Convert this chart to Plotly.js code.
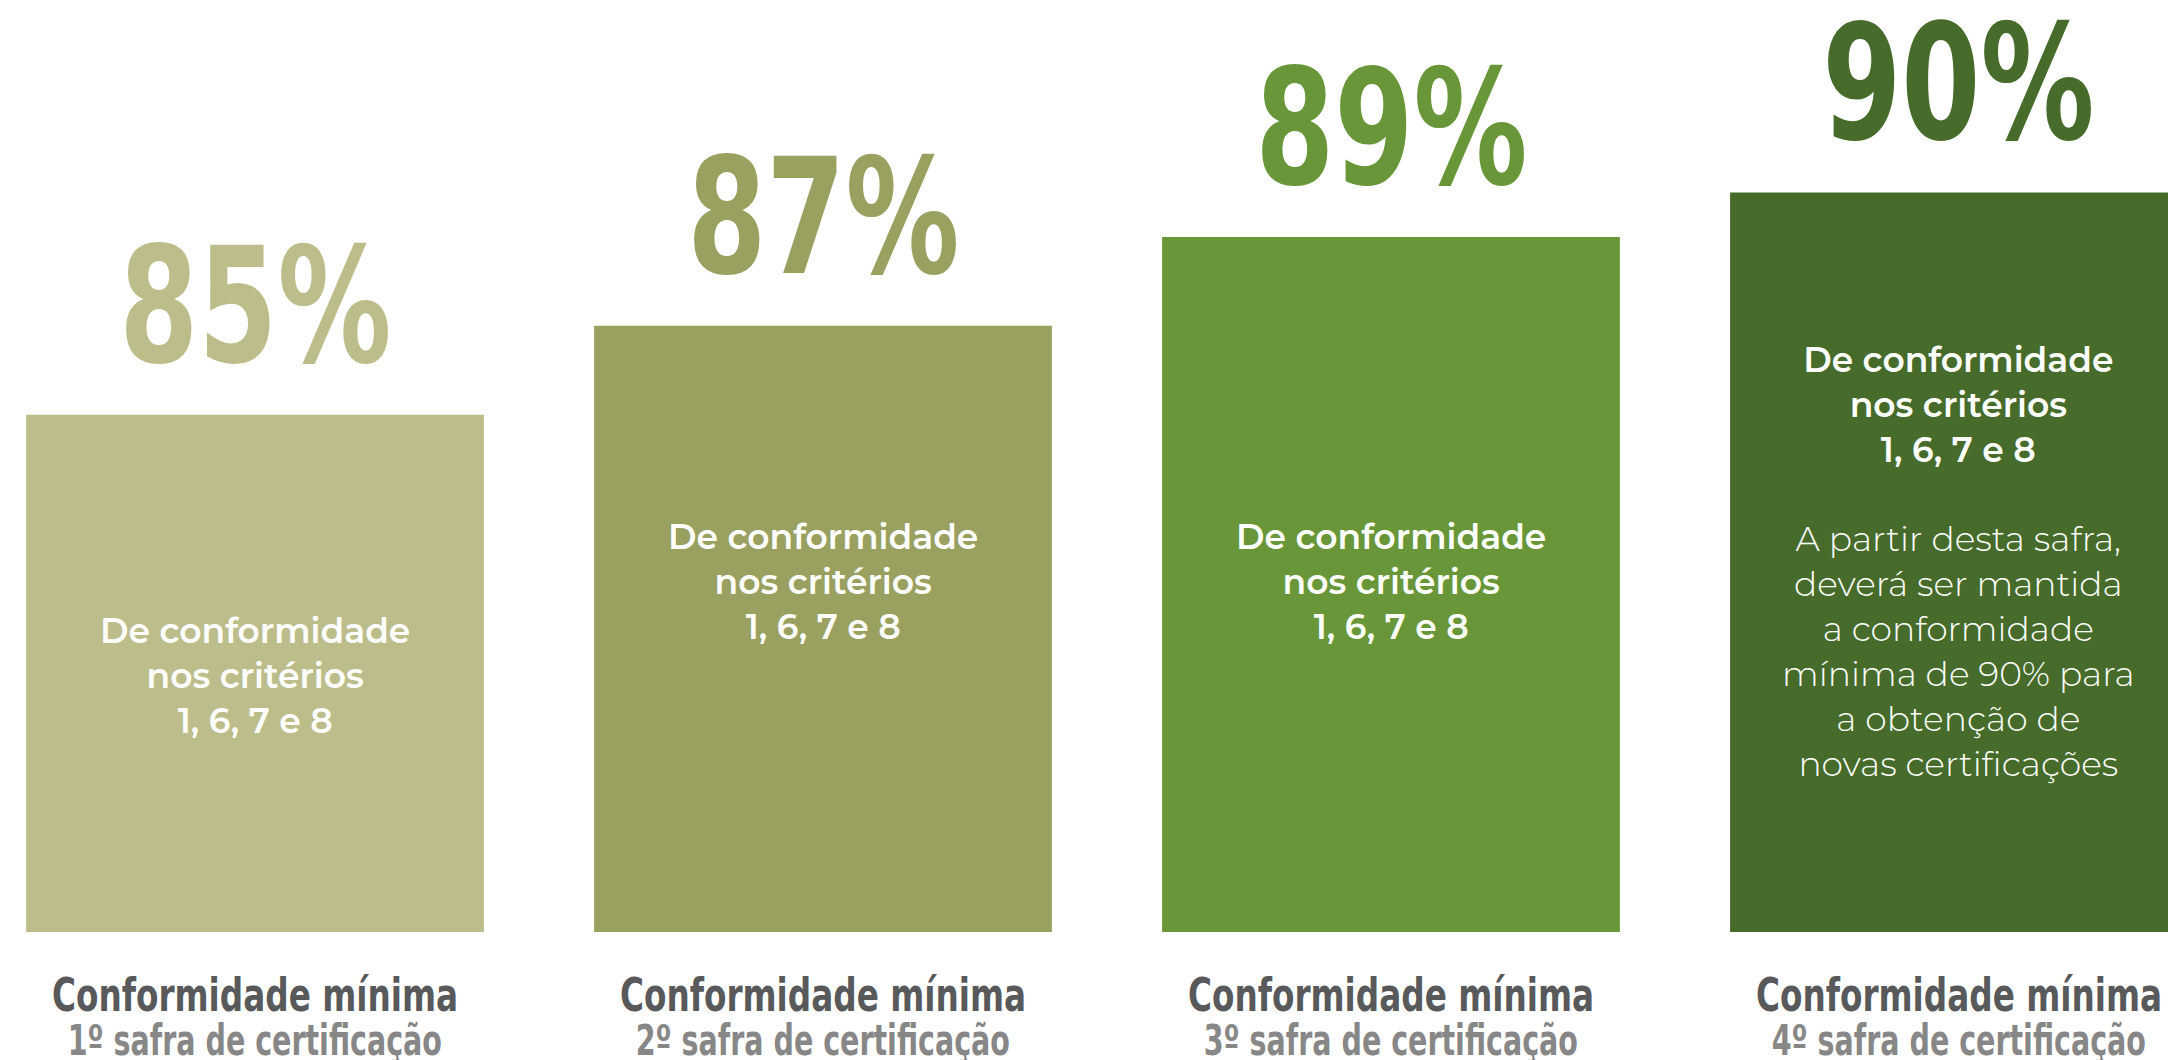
<!DOCTYPE html>
<html>
<head>
<meta charset="utf-8">
<script src="https://cdn.plot.ly/plotly-3.0.1.min.js"></script>
<style>
  html, body { margin: 0; padding: 0; background: #ffffff; }
  #chart { width: 2168px; height: 1060px; }
</style>
</head>
<body>
<div id="chart"></div>
<script>
// ---- data ----
const categories = ["1º safra de certificação", "2º safra de certificação", "3º safra de certificação", "4º safra de certificação"];
const values = [85, 87, 89, 90];
const valueLabels = ["85%", "87%", "89%", "90%"];
const categoryTitle = "Conformidade mínima";
const barNotes = [
  "De conformidade<br>nos critérios<br>1, 6, 7 e 8",
  "De conformidade<br>nos critérios<br>1, 6, 7 e 8",
  "De conformidade<br>nos critérios<br>1, 6, 7 e 8",
  "De conformidade<br>nos critérios<br>1, 6, 7 e 8"
];
const extraNote = "A partir desta safra,<br>deverá ser mantida<br>a conformidade<br>mínima de 90% para<br>a obtenção de<br>novas certificações";

// ---- style ----
const barColors = ["#BDBD8B", "#9AA060", "#689638", "#466B2B"];
const condensed = "'Liberation Sans Narrow', 'Arial Narrow', 'DejaVu Sans Condensed', sans-serif";
const bodyFont = "Montserrat, 'Noto Sans', 'Open Sans', sans-serif";
const xIdx = categories.map((_, i) => i);

const trace = {
  type: "bar",
  x: xIdx,
  y: values,
  marker: { color: barColors, line: { width: 0 } },
  hoverinfo: "skip",
  width: 0.806
};

const annotations = [];
const squeeze = [];   // horizontal squeeze per annotation (to mimic a narrow typeface)
categories.forEach((c, i) => {
  annotations.push({
    x: i, y: values[i], xref: "x", yref: "y",
    text: "<b>" + valueLabels[i] + "</b>",
    showarrow: false, xanchor: "center", yanchor: "bottom", yshift: 13,
    font: { family: condensed, size: 160, color: barColors[i] }
  });
  squeeze.push(0.79);
  annotations.push({
    x: i, y: 0, xref: "x", yref: "paper",
    text: "<b>" + categoryTitle + "</b>",
    showarrow: false, xanchor: "center", yanchor: "middle", yshift: -63,
    font: { family: condensed, size: 46, color: "#58595B" }
  });
  squeeze.push(0.79);
  annotations.push({
    x: i, y: 0, xref: "x", yref: "paper",
    text: "<b>" + c + "</b>",
    showarrow: false, xanchor: "center", yanchor: "middle", yshift: -108,
    font: { family: condensed, size: 42, color: "#878787" }
  });
  squeeze.push(0.755);
});

const noteY = [0.2747, 0.3755, 0.3755];
for (let i = 0; i < 3; i++) {
  annotations.push({
    x: i, y: noteY[i], xref: "x", yref: "paper",
    text: barNotes[i],
    showarrow: false, xanchor: "center", yanchor: "middle",
    font: { family: bodyFont, size: 34.5, color: "#ffffff", weight: 600 }
  });
  squeeze.push(1);
}
annotations.push({
  x: 3, y: 0.397, xref: "x", yref: "paper",
  text: "<span style='font-weight:600'>" + barNotes[3] + "</span><br><br>" + extraNote,
  showarrow: false, xanchor: "center", yanchor: "middle",
  font: { family: bodyFont, size: 34.5, color: "#ffffff", weight: 300 }
});
squeeze.push(1);

const layout = {
  width: 2168, height: 1060,
  margin: { l: 0, r: 0, t: 0, b: 128, pad: 0 },
  paper_bgcolor: "#ffffff", plot_bgcolor: "#ffffff",
  showlegend: false,
  xaxis: { range: [-0.449, 3.368], showticklabels: false, showgrid: false, zeroline: false, showline: false, ticks: "", fixedrange: true },
  yaxis: { range: [73.36, 94.33], showticklabels: false, showgrid: false, zeroline: false, showline: false, ticks: "", fixedrange: true },
  annotations: annotations
};

Plotly.newPlot("chart", [trace], layout, { displayModeBar: false, staticPlot: true }).then(gd => {
  gd.querySelectorAll("g.annotation").forEach(g => {
    const idx = +g.getAttribute("data-index");
    const k = squeeze[idx];
    if (k && k !== 1) {
      const t = g.querySelector("text.annotation-text");
      if (t) {
        t.style.transformBox = "fill-box";
        t.style.transformOrigin = "center";
        t.style.transform = "scaleX(" + k + ")";
      }
    }
  });
});
</script>
</body>
</html>
